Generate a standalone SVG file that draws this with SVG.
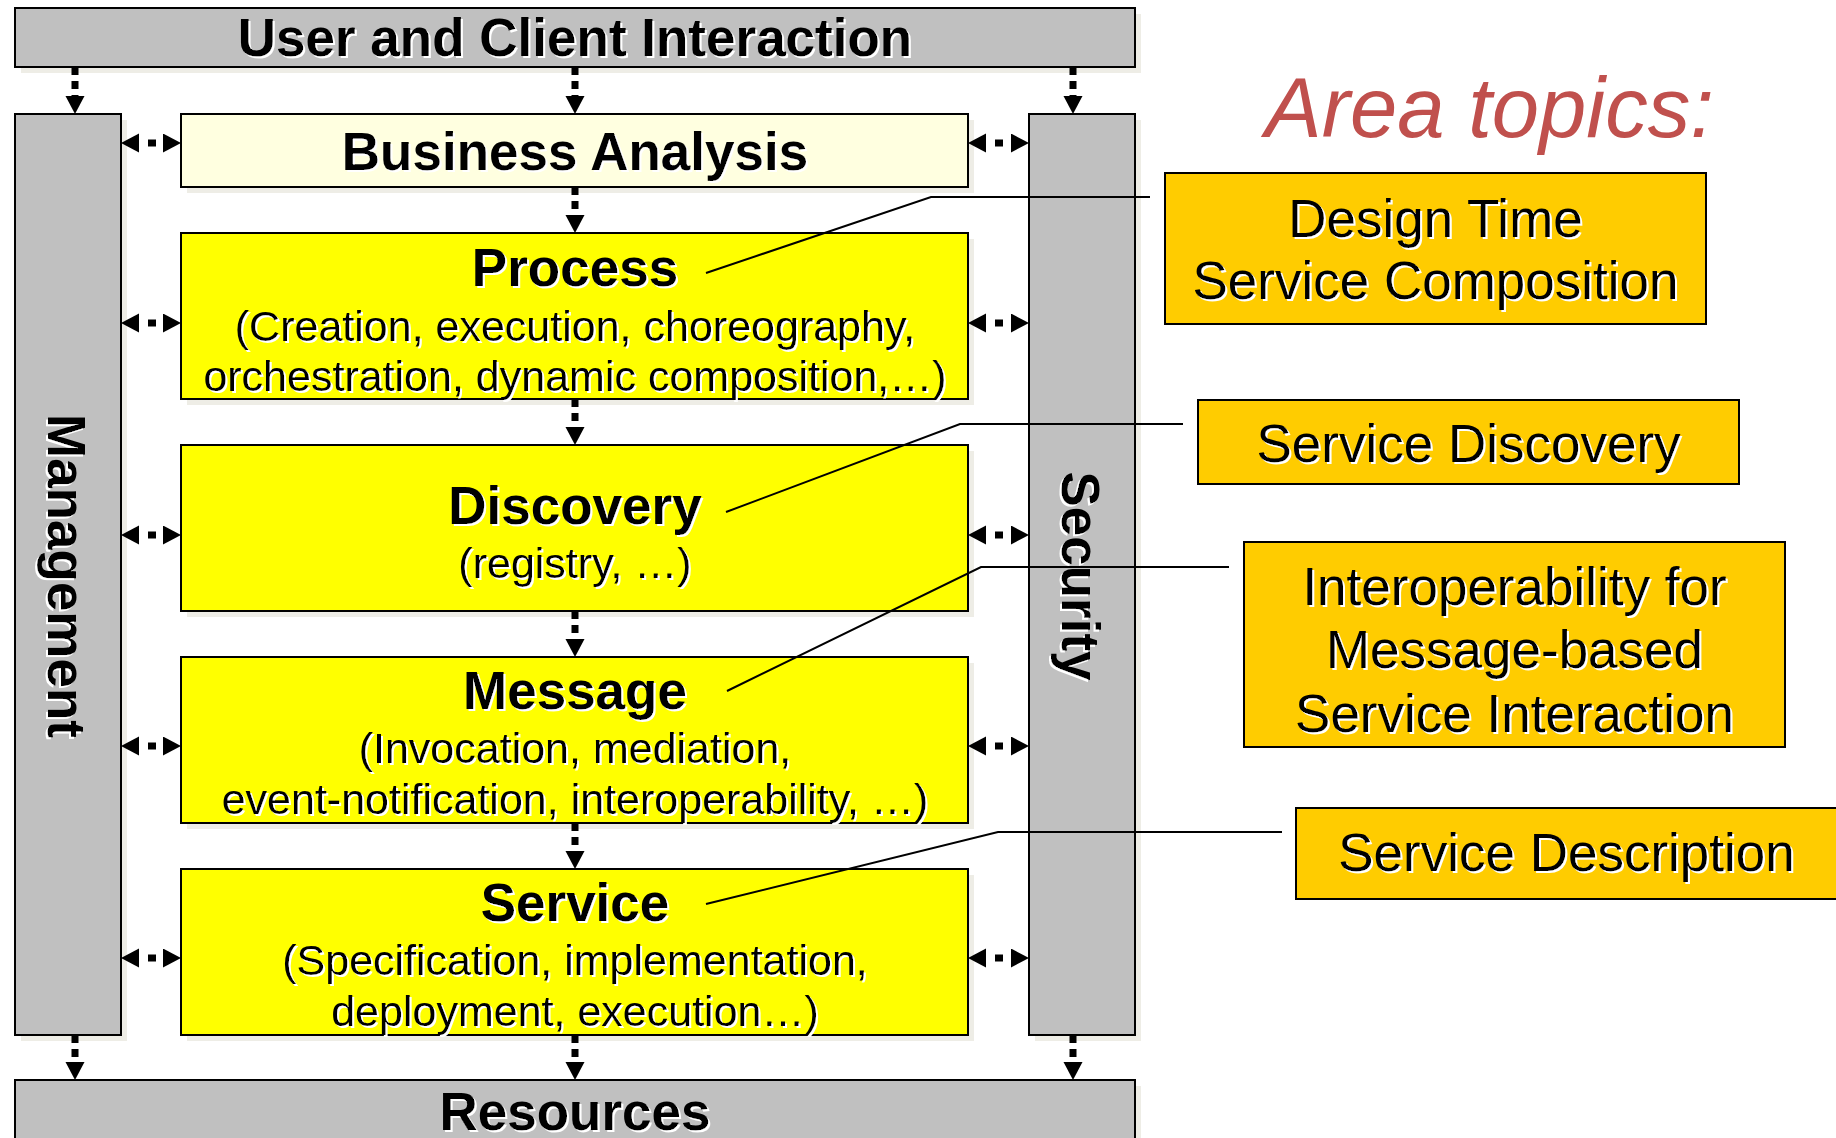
<svg xmlns="http://www.w3.org/2000/svg" width="1836" height="1138" viewBox="0 0 1836 1138">
  <style>
    .sh { fill: #EEEDE6; }
    .gray { fill: #C0C0C0; stroke: #000; stroke-width: 2; }
    .yel { fill: #FFFF00; stroke: #000; stroke-width: 2; }
    .cream { fill: #FFFFE0; stroke: #000; stroke-width: 2; }
    .topic { fill: #FFCC00; stroke: #000; stroke-width: 2; }
    .t { font-family: "Liberation Sans", Arial, sans-serif; fill: #000; text-anchor: middle; filter: url(#ts); }
    .h { font-weight: bold; font-size: 53px; }
    .s { font-size: 43px; }
    .tp { font-size: 53px; }
    .flow { fill: none; stroke: #000; stroke-width: 7; }
    .vflow { stroke-dasharray: 8 6; marker-end: url(#head); }
    .hflow { stroke-dasharray: 0 9 8 10; marker-start: url(#head); marker-end: url(#head); }
    .lead { fill: none; stroke: #000; stroke-width: 2; }
    .area { font-family: "Liberation Sans", Arial, sans-serif; font-style: italic; font-size: 85px; fill: #C0504D; }
  </style>
  <defs>
    <filter id="ts" x="-5%" y="-20%" width="115%" height="150%">
      <feDropShadow dx="2" dy="2" stdDeviation="0" flood-color="#FFFFFF" flood-opacity="1"/>
    </filter>
    <marker id="head" markerUnits="userSpaceOnUse" markerWidth="20" markerHeight="20" refX="0" refY="9.5" orient="auto-start-reverse">
      <path d="M0,0 L18,9.5 L0,19 Z" fill="#000"/>
    </marker>
  </defs>

  <!-- top layer -->
  <g id="user-client">
    <rect class="sh" x="21" y="14" width="1120" height="59"/>
    <rect class="gray" x="15" y="8" width="1120" height="59"/>
    <text class="t h" x="575" y="56">User and Client Interaction</text>
  </g>

  <!-- side columns -->
  <g id="management">
    <rect class="sh" x="21" y="120" width="106" height="921"/>
    <rect class="gray" x="15" y="114" width="106" height="921"/>
    <text class="t h" transform="translate(48,576) rotate(90)">Management</text>
  </g>
  <g id="security">
    <rect class="sh" x="1035" y="120" width="106" height="921"/>
    <rect class="gray" x="1029" y="114" width="106" height="921"/>
    <text class="t h" transform="translate(1062,576) rotate(90)">Security</text>
  </g>

  <!-- central stack -->
  <g id="business-analysis">
    <rect class="sh" x="187" y="120" width="787" height="73"/>
    <rect class="cream" x="181" y="114" width="787" height="73"/>
    <text class="t h" x="575" y="170">Business Analysis</text>
  </g>
  <g id="process">
    <rect class="sh" x="187" y="239" width="787" height="166"/>
    <rect class="yel" x="181" y="233" width="787" height="166"/>
    <text class="t h" x="575" y="286">Process</text>
    <text class="t s" x="575" y="341">(Creation, execution, choreography,</text>
    <text class="t s" x="575" y="391">orchestration, dynamic composition,…)</text>
  </g>
  <g id="discovery">
    <rect class="sh" x="187" y="451" width="787" height="166"/>
    <rect class="yel" x="181" y="445" width="787" height="166"/>
    <text class="t h" x="575" y="524">Discovery</text>
    <text class="t s" x="575" y="578">(registry, …)</text>
  </g>
  <g id="message">
    <rect class="sh" x="187" y="663" width="787" height="166"/>
    <rect class="yel" x="181" y="657" width="787" height="166"/>
    <text class="t h" x="575" y="709">Message</text>
    <text class="t s" x="575" y="763">(Invocation, mediation,</text>
    <text class="t s" x="575" y="814">event-notification, interoperability, …)</text>
  </g>
  <g id="service">
    <rect class="sh" x="187" y="875" width="787" height="166"/>
    <rect class="yel" x="181" y="869" width="787" height="166"/>
    <text class="t h" x="575" y="921">Service</text>
    <text class="t s" x="575" y="975">(Specification, implementation,</text>
    <text class="t s" x="575" y="1026">deployment, execution…)</text>
  </g>

  <!-- bottom layer -->
  <g id="resources">
    <rect class="sh" x="21" y="1086" width="1120" height="70"/>
    <rect class="gray" x="15" y="1080" width="1120" height="70"/>
    <text class="t h" x="575" y="1130">Resources</text>
  </g>

  <!-- heading for the topic boxes -->
  <text class="area" x="1265" y="137">Area topics:</text>

  <g id="topic-composition">
    <rect class="topic" x="1165" y="173" width="541" height="151"/>
    <text class="t tp" x="1435.5" y="237">Design Time</text>
    <text class="t tp" x="1435.5" y="299">Service Composition</text>
  </g>
  <g id="topic-discovery">
    <rect class="topic" x="1198" y="400" width="541" height="84"/>
    <text class="t tp" x="1468.5" y="462">Service Discovery</text>
  </g>
  <g id="topic-interop">
    <rect class="topic" x="1244" y="542" width="541" height="205"/>
    <text class="t tp" x="1514.5" y="605">Interoperability for</text>
    <text class="t tp" x="1514.5" y="668">Message-based</text>
    <text class="t tp" x="1514.5" y="732">Service Interaction</text>
  </g>
  <g id="topic-description">
    <rect class="topic" x="1296" y="808" width="560" height="91"/>
    <text class="t tp" x="1566.5" y="871">Service Description</text>
  </g>

  <!-- connectors -->
  <g id="connectors">
    <!-- downward flows -->
    <path class="flow vflow" d="M75,67 V96"/>
    <path class="flow vflow" d="M575,67 V96"/>
    <path class="flow vflow" d="M1073,67 V96"/>
    <path class="flow vflow" d="M575,187 V215"/>
    <path class="flow vflow" d="M575,399 V427"/>
    <path class="flow vflow" d="M575,611 V639"/>
    <path class="flow vflow" d="M575,823 V851"/>
    <path class="flow vflow" d="M75,1035 V1062"/>
    <path class="flow vflow" d="M575,1035 V1062"/>
    <path class="flow vflow" d="M1073,1035 V1062"/>

    <!-- management links -->
    <path class="flow hflow" d="M139,143 H163"/>
    <path class="flow hflow" d="M139,323 H163"/>
    <path class="flow hflow" d="M139,535 H163"/>
    <path class="flow hflow" d="M139,746 H163"/>
    <path class="flow hflow" d="M139,958 H163"/>

    <!-- security links -->
    <path class="flow hflow" d="M986,143 H1011"/>
    <path class="flow hflow" d="M986,323 H1011"/>
    <path class="flow hflow" d="M986,535 H1011"/>
    <path class="flow hflow" d="M986,746 H1011"/>
    <path class="flow hflow" d="M986,958 H1011"/>

    <!-- topic leaders -->
    <path class="lead" d="M706,273 L931,197 H1150"/>
    <path class="lead" d="M726,512 L960,424 H1183"/>
    <path class="lead" d="M727,691 L981,567 H1229"/>
    <path class="lead" d="M706,904 L998,832 H1282"/>
  </g>
</svg>
